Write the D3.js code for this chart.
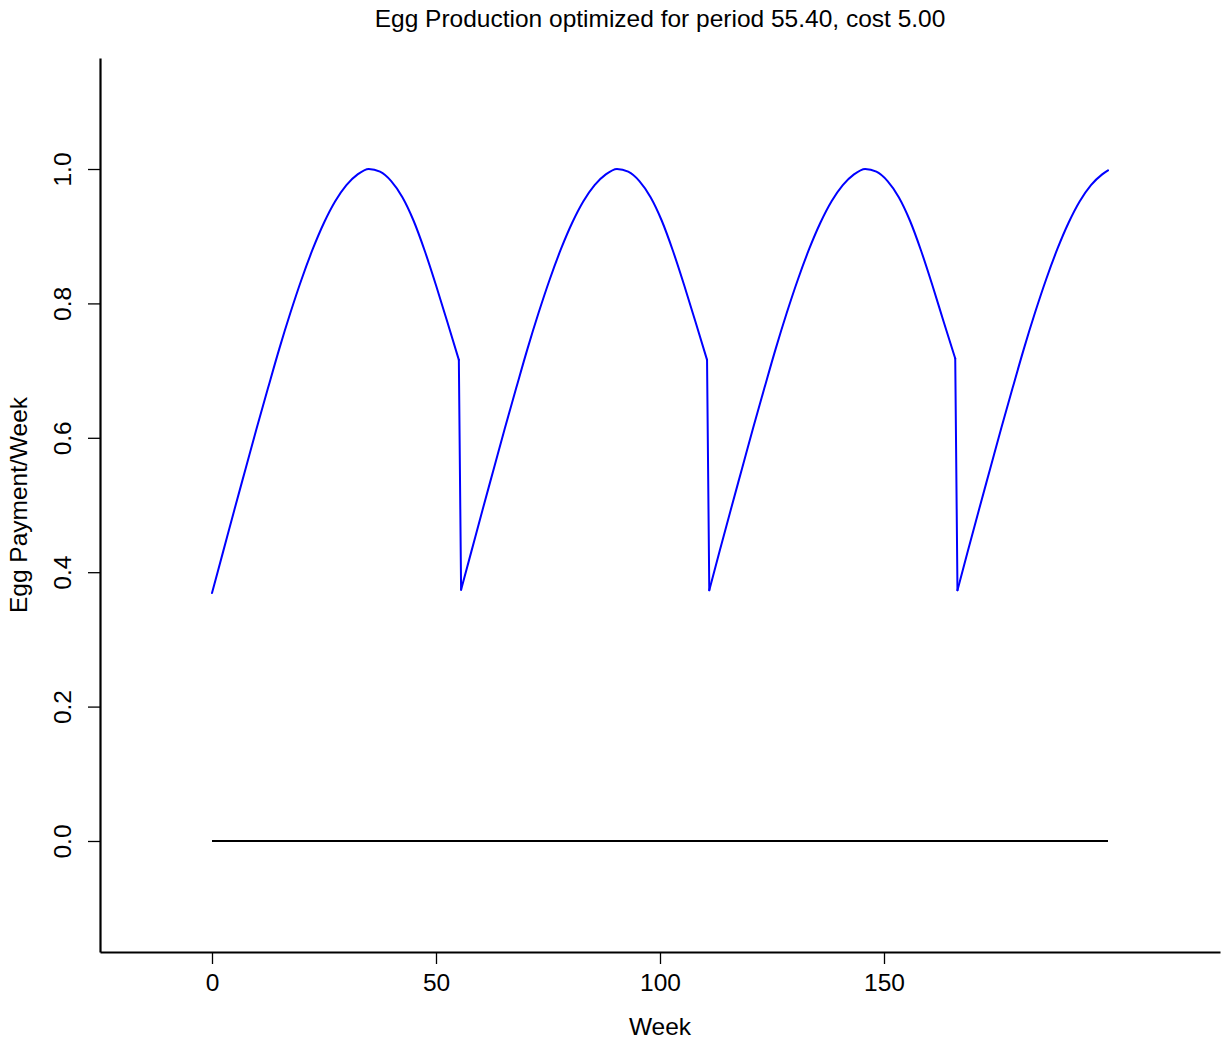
<!DOCTYPE html>
<html>
<head>
<meta charset="utf-8">
<script src="https://cdn.jsdelivr.net/npm/d3@7"></script>
<style>
  html, body { margin: 0; padding: 0; background: #ffffff; }
  svg { display: block; }
  text { font-family: "Liberation Sans", Arial, Helvetica, sans-serif; fill: #000; }
</style>
</head>
<body>
<svg id="chart" width="1225" height="1044"></svg>
<script>
// ---- data ----
const chartTitle = "Egg Production optimized for period 55.40, cost 5.00";
const xLabel = "Week";
const yLabel = "Egg Payment/Week";

const xTickValues = [0, 50, 100, 150];
const yTickValues = [0.0, 0.2, 0.4, 0.6, 0.8, 1.0];

const weeks = [
  0, 2.5, 5, 7.5, 10, 12.5, 15, 17.5, 20, 22.5, 25, 27.5, 30, 32.5, 35, 37.5, 40, 42.5, 45, 47.5, 50, 52.5, 55.1,
  55.6, 57.9, 60.4, 62.9, 65.4, 67.9, 70.4, 72.9, 75.4, 77.9, 80.4, 82.9, 85.4, 87.9, 90.4, 92.9, 95.4, 97.9, 100.4, 102.9, 105.4, 107.9, 110.5,
  111.0, 113.3, 115.8, 118.3, 120.8, 123.3, 125.8, 128.3, 130.8, 133.3, 135.8, 138.3, 140.8, 143.3, 145.8, 148.3, 150.8, 153.3, 155.8, 158.3, 160.8, 163.3, 165.9,
  166.4, 168.7, 171.2, 173.7, 176.2, 178.7, 181.2, 183.7, 186.2, 188.7, 191.2, 193.7, 196.2, 198.7, 200
];

const payment = [
  0.369, 0.431, 0.493, 0.554, 0.615, 0.674, 0.732, 0.786, 0.836, 0.881, 0.920, 0.952, 0.976, 0.992, 1.000, 0.996, 0.982, 0.958, 0.923, 0.878, 0.827, 0.773, 0.716,
  0.374, 0.431, 0.493, 0.554, 0.615, 0.674, 0.732, 0.786, 0.836, 0.881, 0.920, 0.952, 0.976, 0.992, 1.000, 0.996, 0.982, 0.958, 0.923, 0.878, 0.827, 0.773, 0.716,
  0.373, 0.431, 0.493, 0.554, 0.615, 0.674, 0.732, 0.786, 0.836, 0.881, 0.920, 0.952, 0.976, 0.992, 1.000, 0.996, 0.982, 0.958, 0.923, 0.878, 0.827, 0.773, 0.718,
  0.373, 0.431, 0.493, 0.554, 0.615, 0.674, 0.732, 0.786, 0.836, 0.881, 0.920, 0.952, 0.976, 0.992, 0.998
];

const baselineWeeks = [0, 200];
const baselineValues = [0, 0];

// ---- layout ----
const svg = d3.select("#chart");
const plotLeft = 100, plotRight = 1220, plotTop = 58, plotBottom = 952;
const fontSize = 24.5;

const x = d3.scaleLinear().domain([-25, 225]).range([plotLeft, plotRight]);
const y = d3.scaleLinear().domain([-0.1652, 1.1652]).range([plotBottom, plotTop]);

// x axis
const gx = svg.append("g")
  .attr("transform", `translate(0,${plotBottom})`)
  .call(d3.axisBottom(x).tickValues(xTickValues).tickSize(12).tickSizeOuter(0).tickFormat(d3.format("d")));
gx.select(".domain").attr("stroke", "#000").attr("stroke-width", 2.2);
gx.selectAll(".tick line").attr("stroke", "#000").attr("stroke-width", 1.3);
gx.selectAll(".tick text")
  .attr("y", 39).attr("dy", null)
  .style("font-size", fontSize + "px")
  .style("font-family", "'Liberation Sans', Arial, sans-serif")
  .attr("fill", "#000");

// y axis
const gy = svg.append("g")
  .attr("transform", `translate(${plotLeft},0)`)
  .call(d3.axisLeft(y).tickValues(yTickValues).tickSize(12).tickSizeOuter(0).tickFormat(d3.format(".1f")));
gy.select(".domain").attr("stroke", "#000").attr("stroke-width", 2.2);
gy.selectAll(".tick line").attr("stroke", "#000").attr("stroke-width", 1.3);
gy.selectAll(".tick text")
  .attr("x", 0).attr("y", -29).attr("dy", null)
  .attr("transform", "rotate(-90)")
  .attr("text-anchor", "middle")
  .style("font-size", fontSize + "px")
  .style("font-family", "'Liberation Sans', Arial, sans-serif")
  .attr("fill", "#000");

// zero line
const baseData = baselineWeeks.map((w, i) => [w, baselineValues[i]]);
svg.append("path")
  .datum(baseData)
  .attr("fill", "none")
  .attr("stroke", "#000")
  .attr("stroke-width", 2)
  .attr("d", d3.line().x(d => x(d[0])).y(d => y(d[1])));

// production curve: smooth within each laying cycle, straight drops between cycles
const curveData = weeks.map((w, i) => [w, payment[i]]);
const segments = [];
let current = [curveData[0]];
for (let i = 1; i < curveData.length; i++) {
  if (curveData[i][1] < curveData[i - 1][1] - 0.2) {
    segments.push(current);
    current = [];
  }
  current.push(curveData[i]);
}
segments.push(current);

const smoothLine = d3.line().x(d => x(d[0])).y(d => y(d[1])).curve(d3.curveMonotoneX);
const straightLine = d3.line().x(d => x(d[0])).y(d => y(d[1]));

const gCurve = svg.append("g")
  .attr("fill", "none")
  .attr("stroke", "#0000ff")
  .attr("stroke-width", 2)
  .attr("stroke-linejoin", "round")
  .attr("stroke-linecap", "round");

segments.forEach((seg, k) => {
  gCurve.append("path").attr("d", smoothLine(seg));
  if (k > 0) {
    const prev = segments[k - 1];
    gCurve.append("path").attr("d", straightLine([prev[prev.length - 1], seg[0]]));
  }
});

// title & axis labels
svg.append("text")
  .attr("x", (plotLeft + plotRight) / 2).attr("y", 27)
  .attr("text-anchor", "middle")
  .style("font-size", fontSize + "px")
  .text(chartTitle);

svg.append("text")
  .attr("x", (plotLeft + plotRight) / 2).attr("y", 1035)
  .attr("text-anchor", "middle")
  .style("font-size", fontSize + "px")
  .text(xLabel);

svg.append("text")
  .attr("transform", `translate(27,${(plotTop + plotBottom) / 2}) rotate(-90)`)
  .attr("text-anchor", "middle")
  .style("font-size", fontSize + "px")
  .text(yLabel);
</script>
</body>
</html>
